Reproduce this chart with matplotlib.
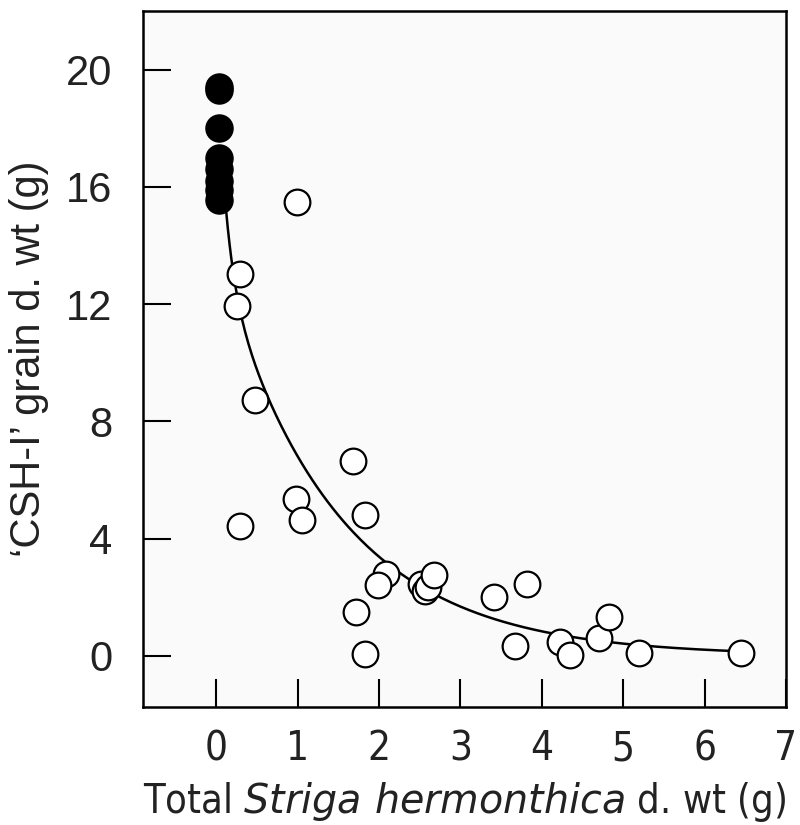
import numpy as np
import matplotlib
matplotlib.use("Agg")
import matplotlib.pyplot as plt
from matplotlib import font_manager as fm

# Uninfested plants (no Striga biomass)
ctrl_x = [0.03, 0.03, 0.03, 0.03, 0.03, 0.03, 0.03, 0.03]
ctrl_y = [19.4, 19.3, 18.0, 17.0, 16.6, 16.2, 15.9, 15.55]

# Infested plants
inf_x = [0.99, 0.29, 0.25, 0.47, 1.68, 0.985, 1.05, 1.83, 0.29, 2.08, 1.99,
         1.72, 1.83, 2.52, 2.56, 2.60, 2.67, 3.41, 3.82, 3.67, 4.22, 4.35,
         4.70, 4.82, 5.20, 6.45]
inf_y = [15.48, 13.02, 11.94, 8.74, 6.66, 5.34, 4.62, 4.81, 4.42, 2.80, 2.41,
         1.48, 0.06, 2.46, 2.20, 2.35, 2.75, 2.01, 2.46, 0.34, 0.48, 0.02,
         0.59, 1.33, 0.08, 0.11]

# Fitted response curve: y = a*exp(-b*x) + c*exp(-d*x)
fit_a, fit_b, fit_c, fit_d = 13.7, 0.70, 7.2, 8.4
fit_range = (0.12, 6.45)

x_ticks = [0, 1, 2, 3, 4, 5, 6, 7]
y_ticks = [0, 4, 8, 12, 16, 20]

# Narrow face for the x-axis texts, if one is available
has_condensed = any(f.name == "DejaVu Sans" and "ondensed" in f.fname
                    for f in fm.fontManager.ttflist)
if has_condensed:
    narrow = dict(family="DejaVu Sans", stretch="condensed")
    xtick_size, xlab_size = 29, 28.5
else:
    narrow = dict(family="Liberation Sans")
    xtick_size, xlab_size = 29, 23

fig = plt.figure(figsize=(8, 8.25), dpi=100)
ax = fig.add_axes([0.17875, 0.1430, 0.80375, 0.8436])
ax.set_facecolor("#fafafa")

xs = np.linspace(*fit_range, 300)
ax.plot(xs, fit_a * np.exp(-fit_b * xs) + fit_c * np.exp(-fit_d * xs),
        color="black", lw=1.8, zorder=2)

ax.plot(inf_x, inf_y, "o", ms=18.5, mfc="white", mec="black", mew=1.6,
        zorder=3)
ax.plot(ctrl_x, ctrl_y, "o", ms=19.5, mfc="black", mec="black", mew=1.0,
        zorder=4)

ax.set_xlim(-0.9, 7.0)
ax.set_ylim(-1.75, 22.0)

ax.set_xticks(x_ticks)
ax.set_yticks(y_ticks)
ax.tick_params(direction="in", length=20, width=1.5, top=False, right=False)
ax.tick_params(axis="x", pad=16)
ax.tick_params(axis="y", pad=22)
for lab in ax.get_xticklabels():
    lab.set_fontfamily(narrow["family"])
    if "stretch" in narrow:
        lab.set_fontstretch(narrow["stretch"])
    lab.set_fontsize(xtick_size)
    lab.set_color("#222222")
for lab in ax.get_yticklabels():
    lab.set_fontfamily("Liberation Sans")
    lab.set_fontsize(30)
    lab.set_color("#222222")

for sp in ax.spines.values():
    sp.set_linewidth(1.8)

xl = ax.set_xlabel(r"Total $\it{Striga\ hermonthica}$ d. wt (g)",
                   fontsize=xlab_size, color="#222222", labelpad=8)
xl.set_fontfamily(narrow["family"])
if "stretch" in narrow:
    xl.set_fontstretch(narrow["stretch"])
plt.rcParams["mathtext.fontset"] = "custom"
plt.rcParams["mathtext.it"] = narrow["family"] + ":italic"
plt.rcParams["mathtext.rm"] = narrow["family"]

ax.set_ylabel("\u2018CSH-I\u2019 grain d. wt (g)", fontfamily="Liberation Sans",
              fontsize=30, color="#222222", labelpad=12)

fig.savefig("out.png", dpi=100, facecolor="white")
